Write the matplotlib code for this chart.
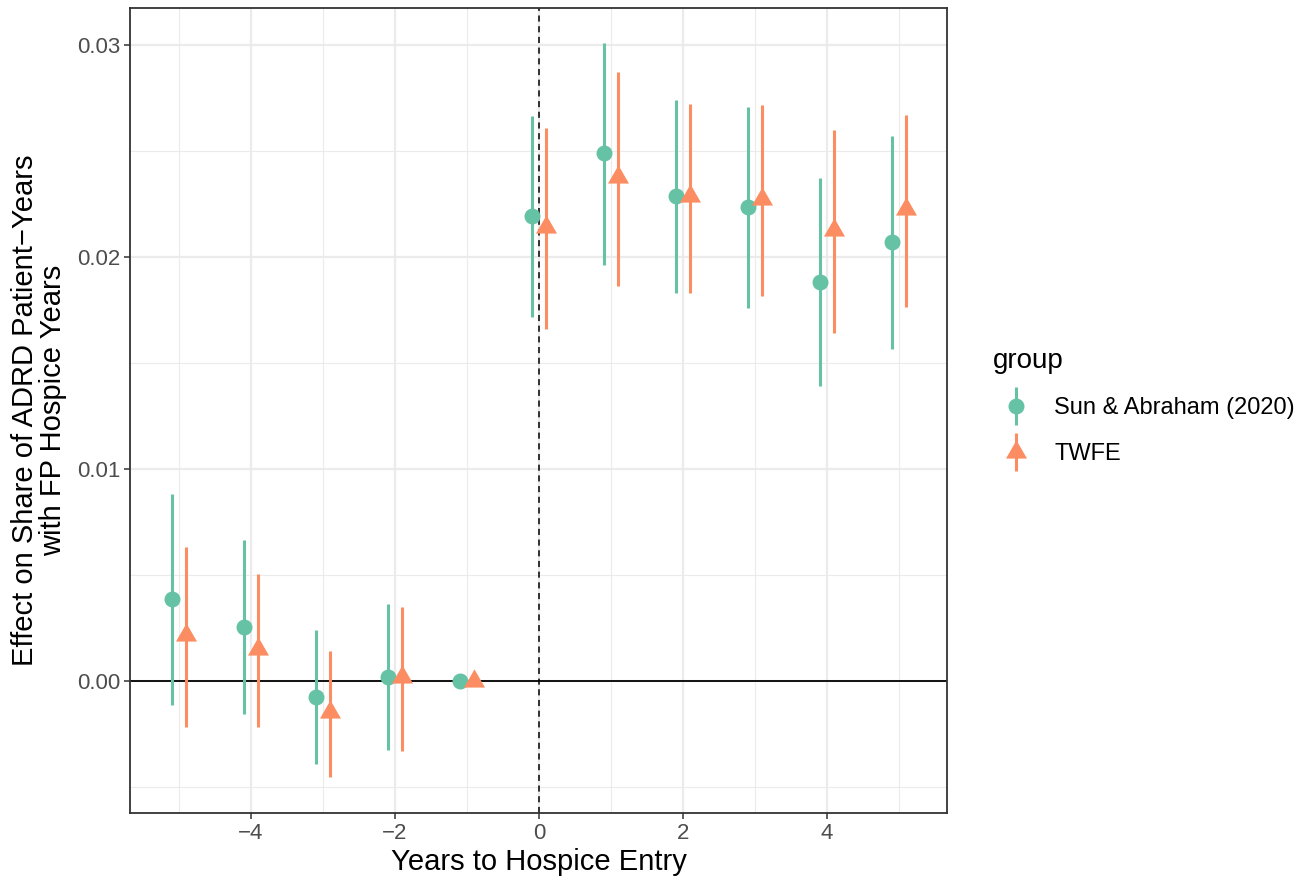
import matplotlib
matplotlib.use("Agg")
import matplotlib.pyplot as plt
from matplotlib.lines import Line2D
from matplotlib.legend_handler import HandlerTuple
from matplotlib.ticker import MultipleLocator
import numpy as np

plt.rcParams['font.family'] = ['Liberation Sans', 'DejaVu Sans']

# event-study estimates with 95% confidence bounds
years = [-5, -4, -3, -2, -1, 0, 1, 2, 3, 4, 5]

sa_est = [0.00386, 0.00256, -0.00075, 0.00020, 0.0, 0.02193, 0.02489, 0.02288, 0.02237, 0.01884, 0.02069]
sa_low = [-0.00113, -0.00157, -0.00393, -0.00325, 0.0, 0.01718, 0.01962, 0.01829, 0.01761, 0.01393, 0.01566]
sa_high = [0.00881, 0.00665, 0.00241, 0.00363, 0.0, 0.02665, 0.03012, 0.02740, 0.02708, 0.02371, 0.02571]

twfe_est = [0.00217, 0.00152, -0.00146, 0.00019, 0.0, 0.02144, 0.02379, 0.02286, 0.02275, 0.02129, 0.02228]
twfe_low = [-0.00218, -0.00218, -0.00451, -0.00330, 0.0, 0.01660, 0.01865, 0.01832, 0.01816, 0.01640, 0.01763]
twfe_high = [0.00634, 0.00506, 0.00142, 0.00349, 0.0, 0.02610, 0.02874, 0.02724, 0.02717, 0.02601, 0.02672]

groups = ['Sun & Abraham (2020)', 'TWFE']
colors = ['#66C2A5', '#FC8D62']

# equilateral triangle marker, like ggplot shape 17
tri = [(-1, -0.5774), (1, -0.5774), (0, 1.1547), (-1, -0.5774)]
markers = ['o', tri]
msizes = [11.5, 17.5]
dodge = [-0.1, 0.1]

grey20 = '#333333'
grid_col = '#EBEBEB'

fig = plt.figure(figsize=(12.94, 8.89), dpi=100)
ax = fig.add_axes([0.1005, 0.0855, 0.6313, 0.9055])

series = [(sa_est, sa_low, sa_high), (twfe_est, twfe_low, twfe_high)]
for (est, lo, hi), col, mk, ms, dx in zip(series, colors, markers, msizes, dodge):
    x = np.array(years) + dx
    ax.vlines(x, lo, hi, color=col, linewidth=2.2, zorder=3)
    ax.plot(x, est, linestyle='none', marker=mk, markersize=ms,
            color=col, markeredgewidth=0, zorder=4)

ax.axhline(0, color='black', linewidth=1.3, zorder=2)
ax.axvline(0, color='black', linewidth=1.1, linestyle=(0, (4, 3)), zorder=2)

ax.set_xlim(-5.68, 5.67)
ax.set_ylim(-0.00623, 0.03175)
ax.xaxis.set_major_locator(MultipleLocator(2))
ax.xaxis.set_minor_locator(MultipleLocator(1))
ax.yaxis.set_major_locator(MultipleLocator(0.01))
ax.yaxis.set_minor_locator(MultipleLocator(0.005))
ax.yaxis.set_major_formatter(matplotlib.ticker.FuncFormatter(lambda v, p: f'{v:.2f}'))

ax.grid(which='major', color=grid_col, linewidth=1.6, zorder=0)
ax.grid(which='minor', color=grid_col, linewidth=0.8, zorder=0)
ax.set_axisbelow(True)

for sp in ax.spines.values():
    sp.set_color(grey20)
    sp.set_linewidth(1.3)

ax.tick_params(which='major', length=4, width=1.1, color=grey20,
               labelsize=16, labelcolor='#4D4D4D', pad=3)
ax.tick_params(which='minor', length=0)

ax.set_xlabel('Years to Hospice Entry', fontsize=21, labelpad=3)
ax.set_ylabel('Effect on Share of ADRD Patient−Years\nwith FP Hospice Years',
              fontsize=21, labelpad=7, linespacing=1.0)

handles = []
for col, mk, ms in zip(colors, markers, msizes):
    bar = Line2D([], [], marker='|', markersize=27, markeredgewidth=2.2,
                 color=col, linestyle='none')
    pt = Line2D([], [], marker=mk, markersize=ms, markeredgewidth=0,
                color=col, linestyle='none')
    handles.append((bar, pt))

fig.legend(handles, groups, handler_map={tuple: HandlerTuple(ndivide=1)},
           title='group', loc='center left', bbox_to_anchor=(0.7508, 0.543),
           frameon=False, fontsize=17, title_fontsize=20,
           handlelength=2.0, handletextpad=0.6, labelspacing=1.0,
           alignment='left')

fig.savefig('out.png', dpi=100)
